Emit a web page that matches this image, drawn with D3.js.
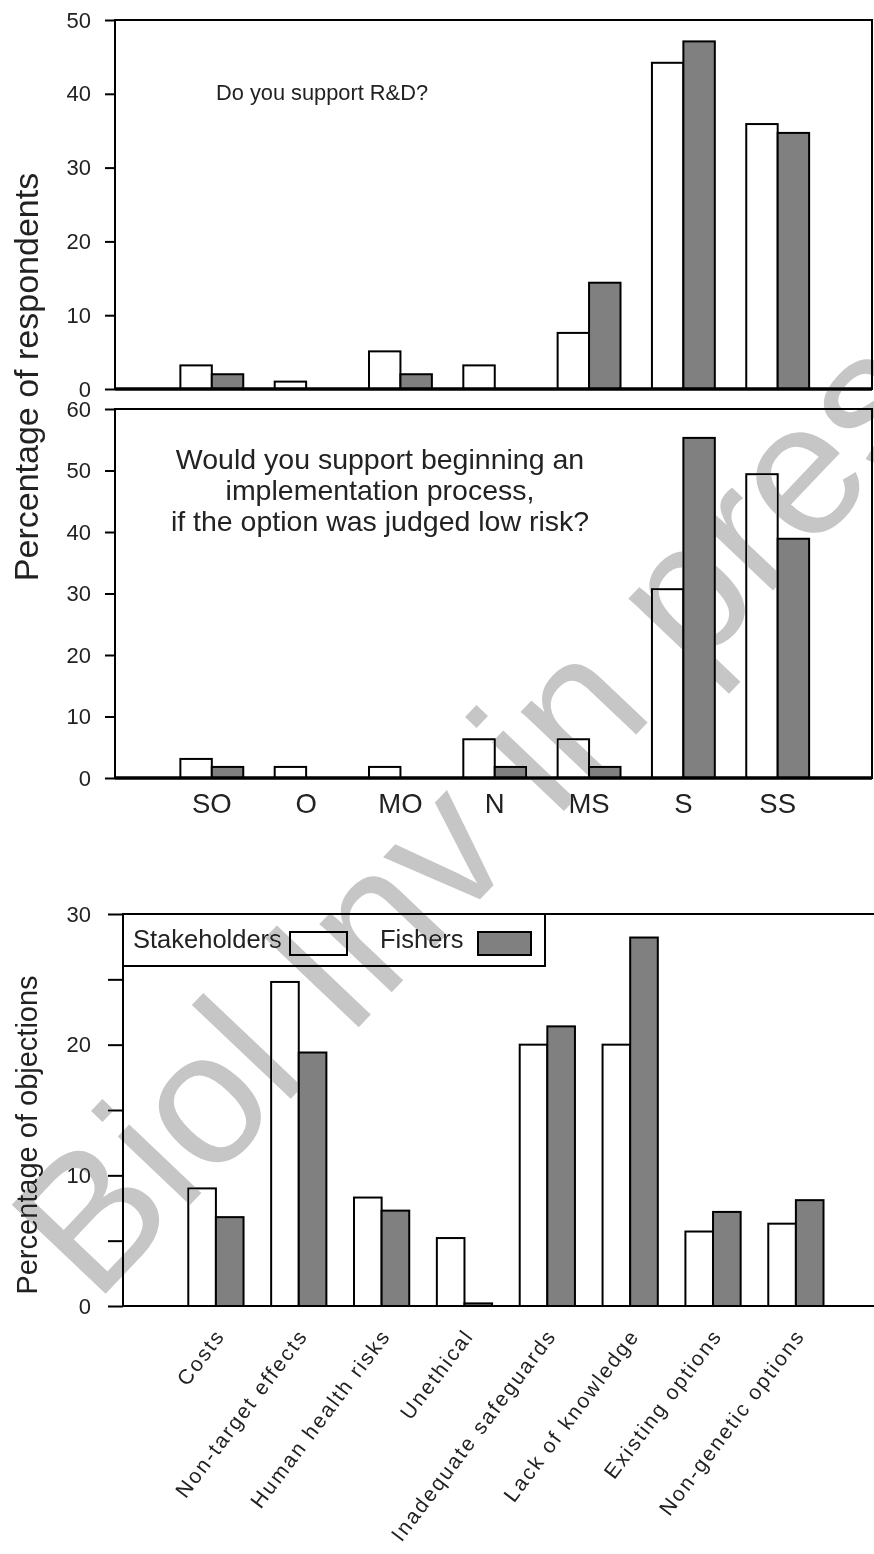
<!DOCTYPE html>
<html>
  <head>
    <title>Support and objections</title>
    <script src="https://cdn.jsdelivr.net/npm/d3@7"></script>
    <style>
      body { margin: 0; background: #fff; }
      text { font-family: 'Liberation Sans', Arial, sans-serif; fill: #222; }
    </style>
  </head>
  <body>
    <svg width="874" height="1554" id="mainsvg"></svg>
    <script>
        // support scale categories
        const scaleCats = ['SO', 'O', 'MO', 'N', 'MS', 'S', 'SS'];
        // "Do you support R&D?"
        const rdStakeholders = [3.2, 1.0, 5.1, 3.2, 7.6, 44.2, 35.9];
        const rdFishers = [2.0, 0, 2.0, 0, 14.4, 47.1, 34.7];
        // "Would you support beginning an implementation process..."
        const implStakeholders = [3.1, 1.8, 1.8, 6.3, 6.3, 30.7, 49.4];
        const implFishers = [1.8, 0, 0, 1.8, 1.8, 55.3, 38.9];
        // objections
        const objCats = ['Costs', 'Non-target effects', 'Human health risks', 'Unethical',
          'Inadequate safeguards', 'Lack of knowledge', 'Existing options', 'Non-genetic options'];
        const objStakeholders = [9.0, 24.8, 8.3, 5.2, 20.0, 20.0, 5.7, 6.3];
        const objFishers = [6.8, 19.4, 7.3, 0.2, 21.4, 28.2, 7.2, 8.1];

        const seriesNames = ['Stakeholders', 'Fishers'];
        const fills = ['#ffffff', '#808080'];

        const svg = d3.select('#mainsvg');

        // x scale shared by the two upper panels
        const xTop = d3.scaleBand().domain(scaleCats).range([117.5, 872])
          .paddingInner(1/3).paddingOuter(2/3);

        function drawPanel(top, bottom, maxY, stake, fish, note, noteX, noteSize, showX) {
          const y = d3.scaleLinear().domain([0, maxY]).range([bottom, top]);
          const g = svg.append('g');

          // bars
          const bw = xTop.bandwidth() / 2;
          [stake, fish].forEach((vals, s) => {
            g.selectAll(null).data(vals).join('rect')
              .attr('x', (d, i) => xTop(scaleCats[i]) + s * bw)
              .attr('y', d => y(d))
              .attr('width', bw)
              .attr('height', d => y(0) - y(d))
              .attr('fill', fills[s])
              .attr('stroke', '#000')
              .attr('stroke-width', 2);
          });

          // frame
          g.append('rect').attr('x', 115).attr('y', top)
            .attr('width', 872 - 115).attr('height', bottom - top)
            .attr('fill', 'none').attr('stroke', '#000').attr('stroke-width', 2);
          g.append('line').attr('x1', 115).attr('x2', 872)
            .attr('y1', y(0)).attr('y2', y(0))
            .attr('stroke', '#000').attr('stroke-width', 3.5);

          const yAxis = d3.axisLeft(y).tickValues(d3.range(0, maxY + 1, 10))
            .tickSize(10).tickPadding(14);
          const ax = g.append('g').attr('transform', 'translate(115,0)').call(yAxis);
          ax.select('.domain').remove();
          ax.selectAll('.tick line').attr('stroke-width', 2);
          ax.selectAll('.tick text').attr('font-size', 22).attr('fill', '#333');

          if (showX) {
            g.selectAll(null).data(scaleCats).join('text')
              .attr('x', d => xTop(d) + xTop.bandwidth() / 2)
              .attr('y', bottom + 35)
              .attr('text-anchor', 'middle')
              .attr('font-size', 27.5)
              .text(d => d);
          }

          const t = g.append('text').attr('text-anchor', 'middle')
            .attr('font-size', noteSize);
          note.forEach((line, i) => {
            t.append('tspan').attr('x', noteX).attr('y', top + 80 + i * 31 - (note.length > 1 ? 20 : 0))
              .text(line);
          });
        }

        drawPanel(20, 389, 50, rdStakeholders, rdFishers, ['Do you support R&D?'], 322, 21.8, false);
        drawPanel(409, 778, 60, implStakeholders, implFishers,
          ['Would you support beginning an', 'implementation process,', 'if the option was judged low risk?'],
          380, 28.5, true);

        svg.append('text')
          .attr('transform', 'translate(38,377) rotate(-90)')
          .attr('text-anchor', 'middle')
          .attr('font-size', 34)
          .text('Percentage of respondents');

        // ---- objections panel ----
        const xObj = d3.scaleBand().domain(objCats).range([123, 888.8])
          .paddingInner(1/3).paddingOuter(0.788);
        const yObj = d3.scaleLinear().domain([0, 30]).range([1306, 914]);
        const gb = svg.append('g');
        const obw = xObj.bandwidth() / 2;

        [objStakeholders, objFishers].forEach((vals, s) => {
          gb.selectAll(null).data(vals).join('rect')
            .attr('x', (d, i) => xObj(objCats[i]) + s * obw)
            .attr('y', d => yObj(d))
            .attr('width', obw)
            .attr('height', d => yObj(0) - yObj(d))
            .attr('fill', fills[s])
            .attr('stroke', '#000')
            .attr('stroke-width', 2);
        });

        gb.append('line').attr('x1', 123).attr('x2', 874).attr('y1', yObj(0)).attr('y2', yObj(0))
          .attr('stroke', '#000').attr('stroke-width', 2);
        gb.append('line').attr('x1', 123).attr('x2', 874).attr('y1', yObj(30)).attr('y2', yObj(30))
          .attr('stroke', '#000').attr('stroke-width', 2);
        gb.append('line').attr('x1', 123).attr('x2', 123).attr('y1', yObj(30)).attr('y2', yObj(0))
          .attr('stroke', '#000').attr('stroke-width', 2);

        const yAxisObj = d3.axisLeft(yObj).tickValues(d3.range(0, 31, 5))
          .tickSize(15).tickPadding(17)
          .tickFormat(d => d % 10 === 0 ? d : '');
        const axb = gb.append('g').attr('transform', 'translate(123,0)').call(yAxisObj);
        axb.select('.domain').remove();
        axb.selectAll('.tick line').attr('stroke-width', 2);
        axb.selectAll('.tick text').attr('font-size', 22).attr('fill', '#333');

        gb.selectAll(null).data(objCats).join('text')
          .attr('transform', d => `translate(${xObj(d) + xObj.bandwidth() / 2 + 10},1336) rotate(-53)`)
          .attr('text-anchor', 'end')
          .attr('font-size', 21)
          .attr('letter-spacing', 2.1)
          .attr('fill', '#333')
          .text(d => d);

        svg.append('text')
          .attr('transform', 'translate(37,1135) rotate(-90)')
          .attr('text-anchor', 'middle')
          .attr('font-size', 29)
          .text('Percentage of objections');

        // legend
        const lg = svg.append('g');
        lg.append('rect').attr('x', 123).attr('y', 914).attr('width', 422).attr('height', 52)
          .attr('fill', '#fff').attr('stroke', '#000').attr('stroke-width', 2);
        const legendPos = [{tx: 133, rx: 290, rw: 57}, {tx: 380, rx: 478, rw: 53}];
        seriesNames.forEach((name, i) => {
          lg.append('text').attr('x', legendPos[i].tx).attr('y', 948)
            .attr('font-size', 25.5).attr('fill', '#444').text(name);
          lg.append('rect').attr('x', legendPos[i].rx).attr('y', 932)
            .attr('width', legendPos[i].rw).attr('height', 23)
            .attr('fill', fills[i]).attr('stroke', '#000').attr('stroke-width', 2);
        });

        // watermark
        svg.append('text')
          .attr('transform', 'translate(95,1305) rotate(-46.5)')
          .attr('font-family', "'Liberation Serif', 'Times New Roman', serif")
          .attr('font-size', 188)
          .style('fill', '#c6c6c6')
          .style('mix-blend-mode', 'darken')
          .text('Biol Inv in press');
    </script>
  </body>
</html>
